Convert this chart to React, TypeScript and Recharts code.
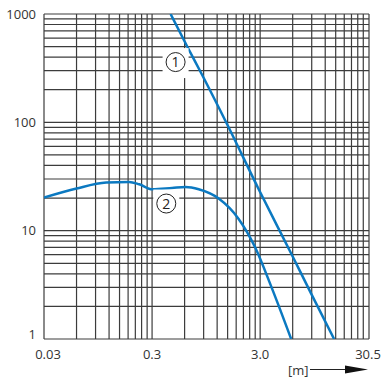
import {
  LineChart,
  Line,
  XAxis,
  YAxis,
  ReferenceLine,
  ReferenceDot,
} from "recharts";

// axis ticks
const xTicks = [0.03, 0.3, 3, 30.5];
const xTickLabels = ["0.03", "0.3", "3.0", "30.5"];
const yTicks = [1, 10, 100, 1000];

// grid: 1..9 within each decade
const decadeSteps = [1, 2, 3, 4, 5, 6, 7, 8, 9];
const xDecades = [0.03, 0.3, 3];
const yDecades = [1, 10, 100];

// curve 1
const curve1X = [0.445, 0.65, 0.87, 1.5, 2.94, 5.81, 8.87, 14.5];
const curve1Y = [1000, 478, 275, 94, 23.6, 6.16, 2.64, 1];

// curve 2
const curve2X = [0.03, 0.06, 0.113, 0.184, 0.228, 0.302, 0.46, 0.611, 0.81, 1.24, 1.89, 2.68, 3.81, 5.81];
const curve2Y = [20.2, 24.5, 27.8, 28.2, 26.8, 24.1, 24.8, 25.3, 24.1, 19.8, 12.9, 7.1, 3.03, 1];

// circled labels
const labelNames = ["1", "2"];
const labelX = [0.495, 0.406];
const labelY = [360, 17.8];

const xGrid = xDecades.flatMap((d) => decadeSteps.map((k) => +(d * k).toPrecision(3))).concat(30.5);
const yGrid = yDecades.flatMap((d) => decadeSteps.map((k) => d * k)).concat(1000);

const series1 = curve1X.map((x, i) => ({ x, y: curve1Y[i] }));
const series2 = curve2X.map((x, i) => ({ x, y: curve2Y[i] }));

const FONT = "'Open Sans', sans-serif";
const BLUE = "#0b79c1";
const TEXT = "#333";
const GRID = "#3c3c3c";

const XTick = (props: any) => {
  const { x, y, payload } = props;
  const i = xTicks.indexOf(payload.value);
  return (
    <text x={x + (i === 0 ? 4 : 0)} y={y} dy={12} textAnchor="middle" fontSize={13} fontFamily={FONT} fill={TEXT}>
      {xTickLabels[i]}
    </text>
  );
};

const YTick = (props: any) => {
  const { x, y, payload } = props;
  return (
    <text x={x} y={y + (payload.value === 1 ? -5 : 0)} dy={4.6} textAnchor="end" fontSize={13} fontFamily={FONT} fill={TEXT}>
      {String(payload.value)}
    </text>
  );
};

const UnitLabel = (props: any) => {
  const { x, y, width } = props.viewBox;
  const right = x + width;
  const base = y + 36;
  return (
    <g>
      <text x={right - 81} y={base} fontSize={13} fontFamily={FONT} fill={TEXT}>
        [m]
      </text>
      <line x1={right - 59} y1={base - 5.5} x2={right - 20} y2={base - 5.5} stroke="#222" strokeWidth={1} />
      <path d={`M ${right - 24} ${base - 9.5} L ${right - 1} ${base - 5.5} L ${right - 24} ${base - 1.5} Z`} fill="#111" />
    </g>
  );
};

const circled = (name: string) => (props: any) => {
  const { cx, cy } = props;
  return (
    <g>
      <rect x={cx - 13} y={cy - 14} width={26} height={30} fill="#fff" />
      <circle cx={cx} cy={cy} r={9.5} fill="#fff" stroke="#222" strokeWidth={1} />
      <text x={cx} y={cy} dy={5} textAnchor="middle" fontSize={14} fontFamily={FONT} fill="#222">
        {name}
      </text>
    </g>
  );
};

export default function App() {
  return (
    <div style={{ position: "absolute", left: 0, top: 0, background: "#fff" }}>
      <LineChart width={382} height={378} margin={{ top: 14, right: 13, left: 0, bottom: 0 }}>
        <XAxis
          type="number"
          dataKey="x"
          scale="log"
          domain={[0.03, 30.5]}
          ticks={xTicks}
          allowDataOverflow
          axisLine={false}
          tickLine={false}
          height={39}
          tick={XTick}
          label={<UnitLabel />}
        />
        <YAxis
          type="number"
          dataKey="y"
          scale="log"
          domain={[1, 1000]}
          ticks={yTicks}
          allowDataOverflow
          axisLine={false}
          tickLine={false}
          width={44}
          tick={YTick}
        />
        {xGrid.map((v) => (
          <ReferenceLine key={"vx" + v} x={v} stroke={GRID} strokeWidth={1.2} ifOverflow="visible" />
        ))}
        {yGrid.map((v) => (
          <ReferenceLine key={"hy" + v} y={v} stroke={GRID} strokeWidth={1.2} ifOverflow="visible" />
        ))}
        {labelNames.map((n, i) => (
          <ReferenceDot key={n} x={labelX[i]} y={labelY[i]} r={9} shape={circled(n)} ifOverflow="visible" />
        ))}
        <Line data={series1} dataKey="y" type="monotone" stroke={BLUE} strokeWidth={2.5} dot={false} isAnimationActive={false} />
        <Line data={series2} dataKey="y" type="monotone" stroke={BLUE} strokeWidth={2.5} dot={false} isAnimationActive={false} />
      </LineChart>
    </div>
  );
}
